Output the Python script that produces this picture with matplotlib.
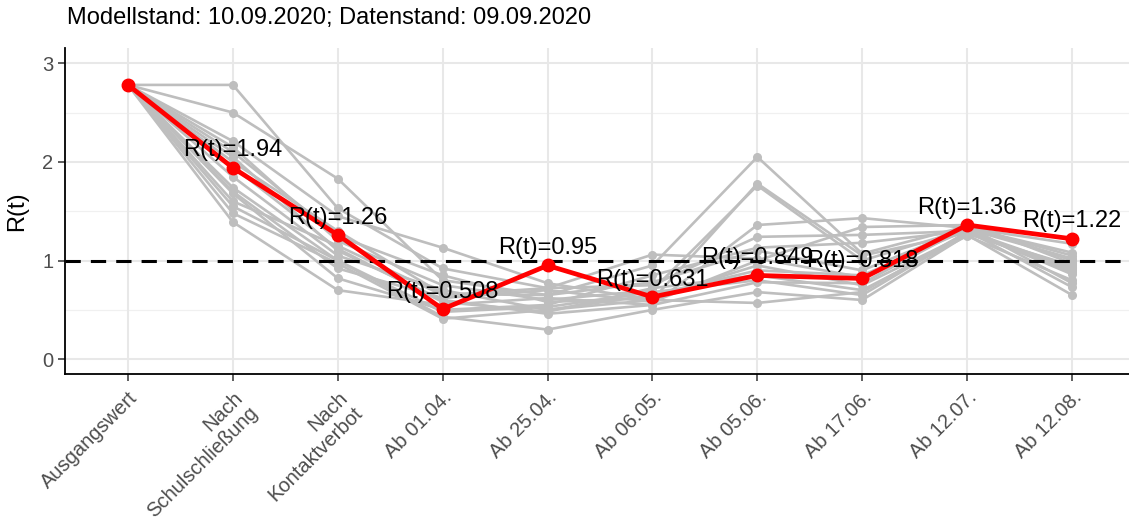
import matplotlib
matplotlib.use("Agg")
import matplotlib.pyplot as plt

plt.rcParams['font.family'] = ['Liberation Sans', 'DejaVu Sans']

# Kategorien der Massnahmen-Phasen
phasen = ["Ausgangswert", "Nach\nSchulschließung", "Nach\nKontaktverbot",
          "Ab 01.04.", "Ab 25.04.", "Ab 06.05.", "Ab 05.06.",
          "Ab 17.06.", "Ab 12.07.", "Ab 12.08."]

# R(t) fuer Deutschland gesamt
rt_gesamt = [2.78, 1.94, 1.26, 0.508, 0.95, 0.631, 0.849, 0.818, 1.36, 1.22]
rt_labels = ["", "1.94", "1.26", "0.508", "0.95", "0.631", "0.849", "0.818", "1.36", "1.22"]

# R(t) der einzelnen Bundeslaender
bl_01 = [2.78, 2.78, 1.53, 0.92, 0.72, 0.75, 1.24, 1.26, 1.30, 0.93]
bl_02 = [2.78, 2.50, 1.83, 0.80, 0.65, 0.95, 2.05, 1.07, 1.35, 0.77]
bl_03 = [2.78, 2.21, 1.45, 1.13, 0.77, 0.60, 1.78, 1.05, 1.28, 0.90]
bl_04 = [2.78, 2.15, 1.20, 0.75, 0.60, 0.70, 1.76, 1.00, 1.32, 1.02]
bl_05 = [2.78, 2.05, 1.10, 0.60, 0.46, 0.55, 1.36, 1.43, 1.33, 1.17]
bl_06 = [2.78, 1.74, 1.00, 0.43, 0.30, 0.50, 0.68, 0.60, 1.26, 0.65]
bl_07 = [2.78, 1.68, 0.82, 0.50, 0.55, 0.85, 1.13, 1.18, 1.30, 0.73]
bl_08 = [2.78, 1.48, 0.97, 0.41, 0.50, 0.60, 0.57, 0.68, 1.29, 0.88]
bl_09 = [2.78, 1.39, 0.70, 0.55, 0.62, 0.55, 0.78, 0.77, 1.34, 1.05]
bl_10 = [2.78, 1.60, 1.15, 0.65, 0.72, 1.06, 1.02, 0.83, 1.38, 0.97]
bl_11 = [2.78, 1.85, 1.05, 0.70, 0.50, 0.65, 0.90, 0.85, 1.31, 0.86]
bl_12 = [2.78, 2.10, 1.25, 0.85, 0.58, 0.62, 0.95, 0.75, 1.27, 0.95]
bl_13 = [2.78, 1.95, 1.12, 0.58, 0.48, 0.72, 0.85, 0.70, 1.25, 0.80]
bl_14 = [2.78, 1.70, 0.92, 0.62, 0.70, 0.58, 1.00, 1.34, 1.36, 1.00]
bl_15 = [2.78, 1.55, 1.00, 0.48, 0.53, 0.68, 0.80, 0.65, 1.28, 0.92]
bl_16 = [2.78, 2.00, 1.30, 0.66, 0.65, 0.78, 1.10, 0.90, 1.33, 1.08]
laender = [bl_01, bl_02, bl_03, bl_04, bl_05, bl_06, bl_07, bl_08,
           bl_09, bl_10, bl_11, bl_12, bl_13, bl_14, bl_15, bl_16]

x = list(range(1, len(phasen) + 1))

fig = plt.figure(figsize=(11.29, 5.23), dpi=100)
ax = fig.add_axes([65/1129, 149/523, 1070/1129, 325.6/523])

# Gitter wie theme_bw
for yv in [0.5, 1.5, 2.5]:
    ax.axhline(yv, color='#f0f0f0', lw=0.9, zorder=0)
for yv in [0, 1, 2, 3]:
    ax.axhline(yv, color='#e8e8e8', lw=1.5, zorder=0)
for xv in x:
    ax.axvline(xv, color='#e8e8e8', lw=1.5, zorder=0)

# Bundeslaender in grau
for bl in laender:
    ax.plot(x, bl, color='#bebebe', lw=1.9, marker='o', ms=5.5, zorder=2)

# Schwelle R = 1
ax.axhline(1, color='black', lw=2.2, dashes=(5, 3.3), zorder=3)

# Deutschland gesamt
ax.plot(x, rt_gesamt, color='#ff0000', lw=3.4, marker='o', ms=9, zorder=4)
for xi, yi, lab in zip(x, rt_gesamt, rt_labels):
    if lab:
        ax.annotate("R(t)=" + lab, (xi, yi), xytext=(0, 12.5),
                    textcoords='offset points', ha='center', va='center',
                    fontsize=17, color='black', zorder=5)

ax.set_xlim(0.4, 10.6)
ax.set_ylim(-0.15, 3.15)
ax.set_yticks([0, 1, 2, 3])
ax.set_xticks(x)
ax.set_xticklabels(phasen, rotation=45, ha='right', va='top',
                   rotation_mode='anchor', fontsize=14.5, color='#4d4d4d')
ax.tick_params(axis='x', pad=5)
ax.tick_params(axis='y', labelsize=14.5, labelcolor='#4d4d4d')
ax.tick_params(axis='both', color='#333333', length=5, width=1.1)
for side in ['top', 'right']:
    ax.spines[side].set_visible(False)
for side in ['left', 'bottom']:
    ax.spines[side].set_color('black')
    ax.spines[side].set_linewidth(1.3)

ax.set_ylabel("R(t)", fontsize=17, labelpad=10)
fig.text(67/1129, 1 - 18/523, "Modellstand: 10.09.2020; Datenstand: 09.09.2020",
         fontsize=17, ha='left', va='center')

fig.savefig("out.png", dpi=100)
